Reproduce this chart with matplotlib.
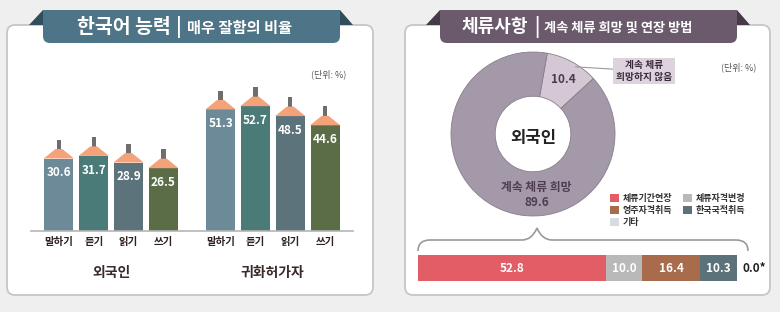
import matplotlib
matplotlib.use('Agg')
import matplotlib.pyplot as plt
from matplotlib.patches import FancyBboxPatch, Polygon, Rectangle
from matplotlib.path import Path
from matplotlib.patches import PathPatch

plt.rcParams['font.family'] = ['Noto Sans CJK KR', 'DejaVu Sans']

# ---- data ----
skills = ['말하기', '듣기', '읽기', '쓰기']
groups = ['외국인', '귀화허가자']
foreign_vals = [30.6, 31.7, 28.9, 26.5]
natural_vals = [51.3, 52.7, 48.5, 44.6]
skill_colors = ['#6d8a99', '#4b7b78', '#5c737c', '#5b6d47']

stay_labels = ['계속 체류\n희망하지 않음', '계속 체류 희망']
stay_vals = [10.4, 89.6]

method_labels = ['체류기간연장', '체류자격변경', '영주자격취득', '한국국적취득', '기타']
method_vals = [52.8, 10.0, 16.4, 10.3, 0.0]
method_colors = ['#e35d66', '#b9b9b9', '#a86c4c', '#5b727a', '#d7dcde']

W, H = 780, 312
fig = plt.figure(figsize=(7.8, 3.12), dpi=100)
fig.patch.set_facecolor('#efefef')


def px_axes(left, top, right, bottom):
    return fig.add_axes([left / W, 1 - bottom / H, (right - left) / W, (bottom - top) / H])


# background / decoration layer in pixel coords
bg = fig.add_axes([0, 0, 1, 1])
bg.set_xlim(0, W)
bg.set_ylim(H, 0)
bg.axis('off')

for x0, x1 in [(7, 373), (405, 770)]:
    bg.add_patch(FancyBboxPatch((x0, 25), x1 - x0, 270, boxstyle='round,pad=0,rounding_size=8',
                                fc='white', ec='#c6c6c6', lw=1.3))

banners = [(43, 340, '#4d7487', '#2f4f5c'), (440, 737, '#6a5a6c', '#463a48')]
for x0, x1, c, cf in banners:
    bg.add_patch(Polygon([(x0 - 14, 25), (x0, 10), (x0, 25)], closed=True, fc=cf, ec='none'))
    bg.add_patch(Polygon([(x1, 10), (x1 + 13, 25), (x1, 25)], closed=True, fc=cf, ec='none'))
    bg.add_patch(FancyBboxPatch((x0, 10), x1 - x0, 33, boxstyle='round,pad=0,rounding_size=7',
                                fc=c, ec='none'))
    bg.add_patch(Rectangle((x0, 10), x1 - x0, 12, fc=c, ec='none'))

bg.text(77, 27, '한국어 능력', color='white', fontsize=14, fontweight='bold', ha='left', va='center')
bg.text(179, 27, '|', color='white', fontsize=14, fontweight='bold', ha='center', va='center')
bg.text(187, 28, '매우 잘함의 비율', color='white', fontsize=11, fontweight='bold', ha='left', va='center')
bg.text(462, 27, '체류사항', color='white', fontsize=13, fontweight='bold', ha='left', va='center')
bg.text(537, 27, '|', color='white', fontsize=13, fontweight='bold', ha='center', va='center')
bg.text(544, 28, '계속 체류 희망 및 연장 방법', color='white', fontsize=9.5, fontweight='bold',
        ha='left', va='center')

bg.text(346, 74, '(단위: %)', color='#555555', fontsize=6.5, ha='right', va='center')
bg.text(756, 67, '(단위: %)', color='#555555', fontsize=6.5, ha='right', va='center')

# brace over the stacked bar
brace = Path([(418, 251), (418, 240), (430, 240), (440, 240),
              (522, 240), (532, 240), (537, 228),
              (542, 240), (552, 240), (736, 240),
              (748, 240), (748, 251)],
             [Path.MOVETO, Path.CURVE3, Path.CURVE3, Path.LINETO,
              Path.LINETO, Path.CURVE3, Path.CURVE3,
              Path.CURVE3, Path.CURVE3, Path.LINETO,
              Path.CURVE3, Path.CURVE3])
bg.add_patch(PathPatch(brace, fc='none', ec='#9a9a9a', lw=1.2))

# ---- left: bar chart ----
ax = px_axes(31, 50, 353, 231)
ax.set_facecolor('none')
pos = [0, 1, 2, 3, 4.64, 5.64, 6.64, 7.64]
vals = foreign_vals + natural_vals
cols = skill_colors * 2
bw = 0.83
ax.bar(pos, vals, width=bw, color=cols, zorder=2)
for x, v in zip(pos, vals):
    ax.add_patch(Rectangle((x - 0.06, v + 2.5), 0.12, 5.5, fc='#6e6e6e', ec='none', zorder=2))
    ax.add_patch(Polygon([(x - bw / 2 - 0.02, v), (x + bw / 2 + 0.02, v),
                          (x + bw * 0.12, v + 4.0), (x - bw * 0.12, v + 4.0)],
                         closed=True, fc='#f4a27a', ec='none', zorder=3))
    ax.text(x, v - 6, f'{v:.1f}', color='white', fontsize=8.5, fontweight='bold',
            ha='center', va='center', zorder=4)
ax.set_xlim(-0.8, 8.44)
ax.set_ylim(0, 76.4)
ax.set_xticks(pos)
ax.set_xticklabels(skills * 2, fontsize=7.5, fontweight='bold', color='#2e2222')
ax.tick_params(axis='x', length=0, pad=4)
ax.set_yticks([])
for s in ['top', 'left', 'right']:
    ax.spines[s].set_visible(False)
ax.spines['bottom'].set_color('#b5b5b5')
ax.spines['bottom'].set_linewidth(1.2)
for g, xc in zip(groups, [1.5, 6.14]):
    ax.text(xc, -0.232, g, transform=ax.get_xaxis_transform(), fontsize=10, fontweight='bold',
            color='#3a2a2a', ha='center', va='center')

# ---- right: donut ----
axd = px_axes(448, 49, 618, 219)
wedges, _ = axd.pie(stay_vals, colors=['#d3c8d4', '#a499a9'], startangle=80, counterclock=False,
                    radius=82 / 85, wedgeprops=dict(width=0.52, edgecolor='#8a7d8c', linewidth=0.6))
axd.set_xlim(-1, 1)
axd.set_ylim(-1, 1)
axd.text(0, -0.05, '외국인', fontsize=12, fontweight='bold', color='#222222', ha='center', va='center')
axd.text(0.36, 0.64, f'{stay_vals[0]:.1f}', fontsize=8.5, fontweight='bold', color='#4a3a4c',
         ha='center', va='center')
axd.text(0.04, -0.63, stay_labels[1], fontsize=8.5, fontweight='bold', color='#4e3d52',
         ha='center', va='center')
axd.text(0.04, -0.81, f'{stay_vals[1]:.1f}', fontsize=8.5, fontweight='bold', color='#4e3d52',
         ha='center', va='center')
axd.annotate(stay_labels[0], xy=(0.5, 0.79), xycoords='data',
             xytext=(644, 71), textcoords=bg.transData,
             fontsize=7, fontweight='bold', color='#3a2a3c', ha='center', va='center',
             bbox=dict(boxstyle='square,pad=0.25', fc='#dcd3dd', ec='none'),
             arrowprops=dict(arrowstyle='-', color='#999999', lw=0.8, shrinkA=0, shrinkB=0))

# ---- right: stacked bar ----
axs = px_axes(418, 255, 737, 281)
axs.set_facecolor('none')
left = 0
handles = []
for lab, v, c in zip(method_labels, method_vals, method_colors):
    b = axs.barh(0.5, v, left=left, height=1, color=c, label=lab)
    handles.append(b)
    if v > 0:
        axs.text(left + v / 2, 0.5, f'{v:.1f}', color='white', fontsize=8.5, fontweight='bold',
                 ha='center', va='center')
    left += v
axs.annotate(f'{method_vals[-1]:.1f}*', xy=(left, 0.5), xytext=(4, 0), textcoords='offset points',
             fontsize=8.5, fontweight='bold', color='#222222', ha='left', va='center')
axs.set_xlim(0, left)
axs.set_ylim(0, 1)
axs.axis('off')

order = [0, 2, 4, 1, 3]
leg = fig.legend([handles[i] for i in order], [method_labels[i] for i in order],
                 loc='upper left', bbox_to_anchor=(610 / W, 1 - 194 / H), ncol=2, frameon=False,
                 fontsize=6.5, handlelength=1.0, handleheight=0.9, handletextpad=0.4,
                 columnspacing=1.2, labelspacing=0.35, borderaxespad=0, borderpad=0)
for t in leg.get_texts():
    t.set_fontweight('bold')
    t.set_color('#333333')

fig.savefig('out.png', dpi=100, facecolor=fig.get_facecolor())
